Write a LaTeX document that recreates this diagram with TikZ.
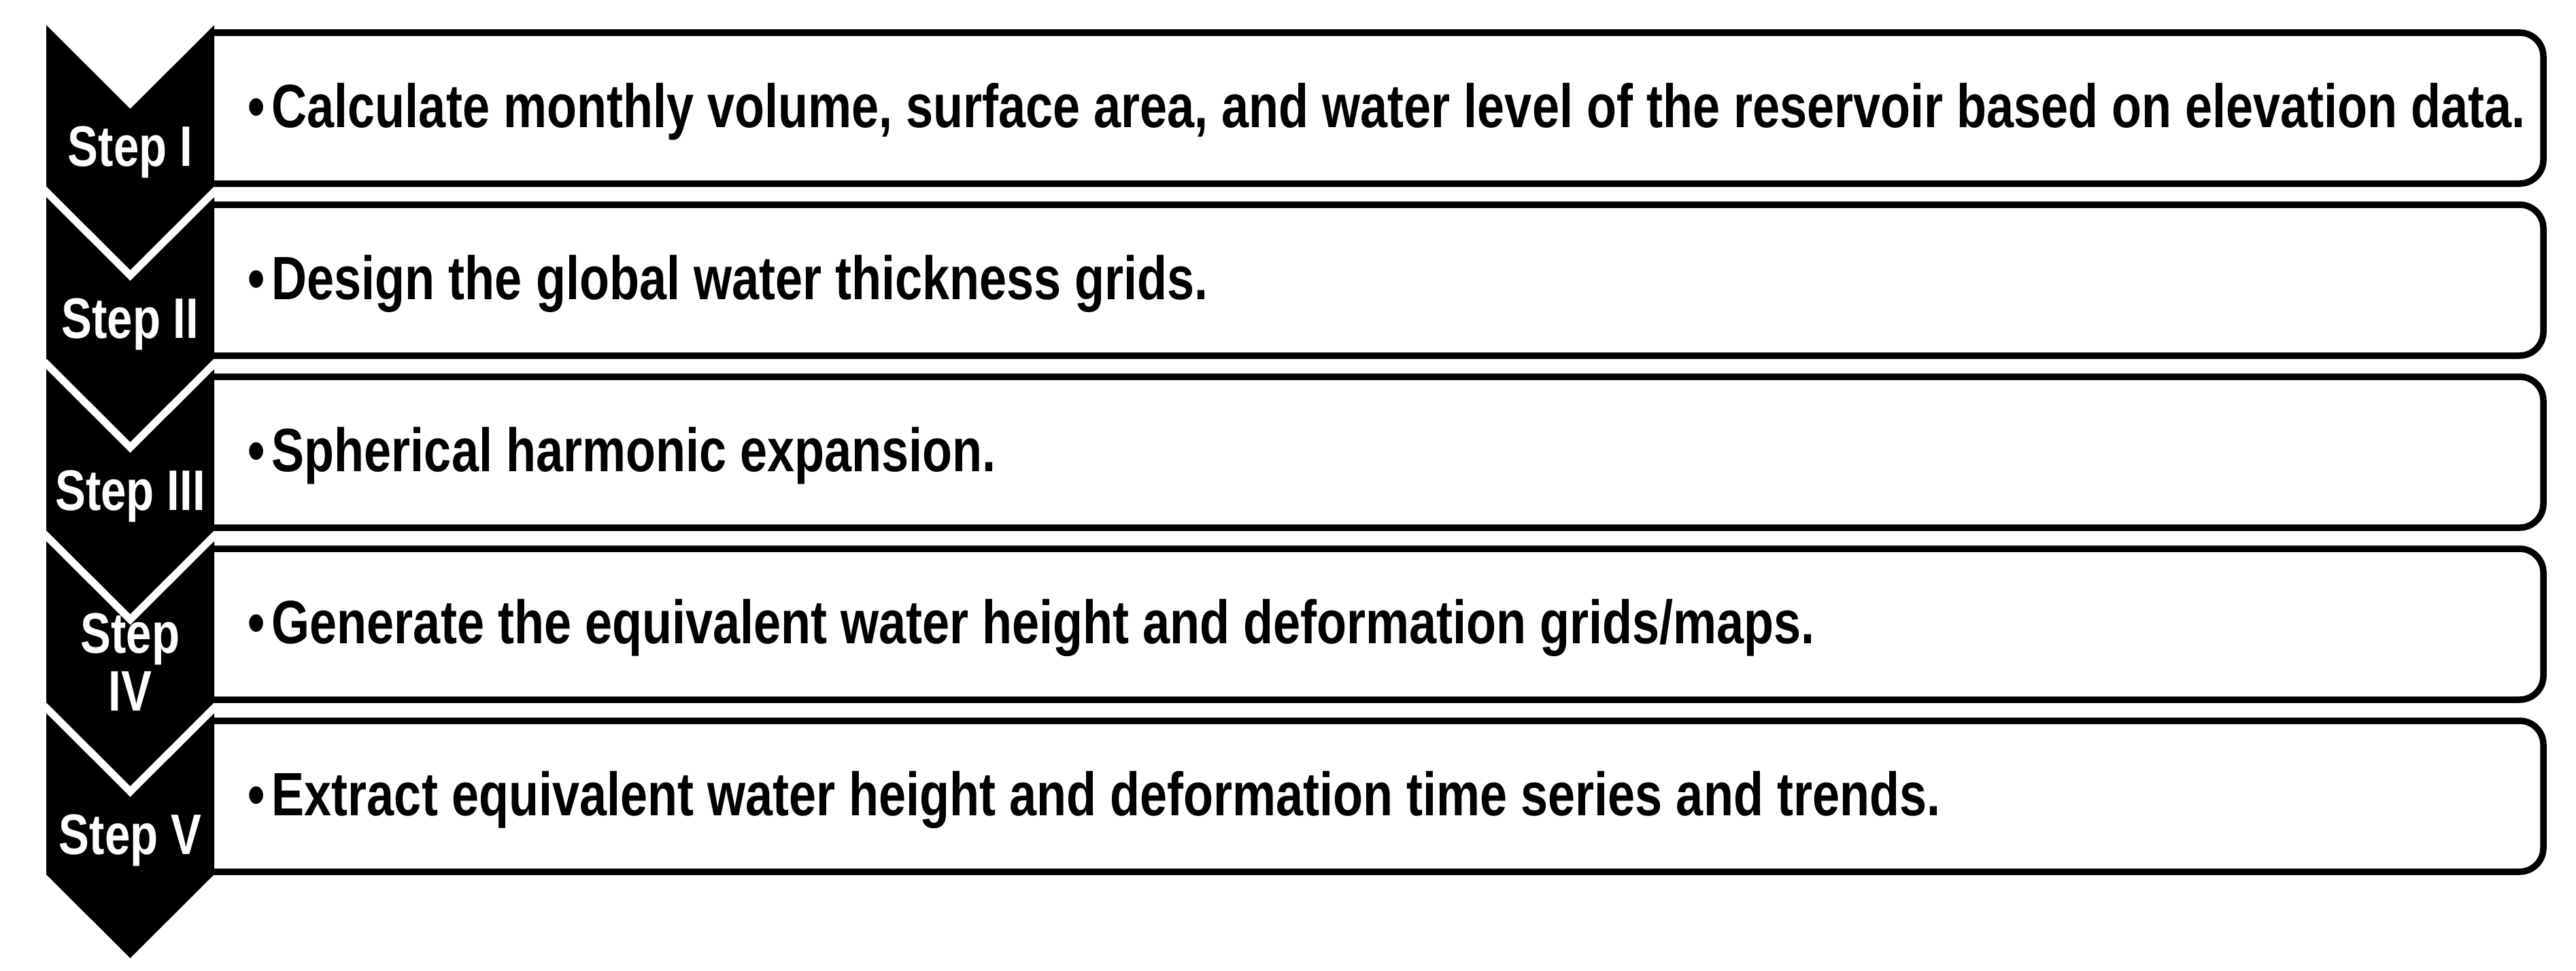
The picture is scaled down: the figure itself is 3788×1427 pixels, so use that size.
\documentclass[tikz,border=0pt]{standalone}
\usepackage{fontspec}
\setmainfont{Liberation Sans}[FakeStretch=0.8]
\begin{document}
\begin{tikzpicture}[x=0.01cm,y=-0.01cm]
  \tikzset{chevron/.style = {fill=black, draw=none}}
  \tikzset{panel/.style = {draw=black, line width=0.095cm, rounded corners=0.35cm}}
  \tikzset{steplabel/.style = {text=white, inner sep=0pt, align=center, anchor=base,
      font=\fontsize{23.9}{23.9}\selectfont\bfseries}}
  \tikzset{tasktext/.style = {text=black, inner sep=0pt, anchor=base west,
      font=\fontsize{25.6}{30}\selectfont\bfseries}}

  \def\pitch{253}
  \def\xl{68}
  \def\xm{191.5}
  \def\xr{315}
  \def\xe{3740}

  \useasboundingbox (0,0) rectangle (3788,1427);

  % Steps
  \foreach \i/\lab/\dy/\txt in {
      1/{Step I}/207/{Calculate monthly volume, surface area, and water level of the reservoir based on elevation data.},
      2/{Step II}/207/{Design the global water thickness grids.},
      3/{Step III}/207/{Spherical harmonic expansion.},
      4/{Step\\IV}/249/{Generate the equivalent water height and deformation grids/maps.},
      5/{Step V}/207/{Extract equivalent water height and deformation time series and trends.}}{
    \pgfmathsetmacro{\ytop}{37+(\i-1)*\pitch}
    % box
    \draw[panel] (\xr,\ytop+11) -- (\xe,\ytop+11) -- (\xe,\ytop+233) -- (\xr,\ytop+233);
    % chevron
    \fill[chevron] (\xl,\ytop) -- (\xm,\ytop+123) -- (\xr,\ytop) -- (\xr,\ytop+237)
      -- (\xm,\ytop+360) -- (\xl,\ytop+237) -- cycle;
    \node[steplabel] (step\i) at (\xm,\ytop+\dy) {\lab};
    \node[tasktext] (task\i) at (364,\ytop+150) {\textbullet\hspace{0.10cm}\txt};
  }
\end{tikzpicture}
\end{document}
